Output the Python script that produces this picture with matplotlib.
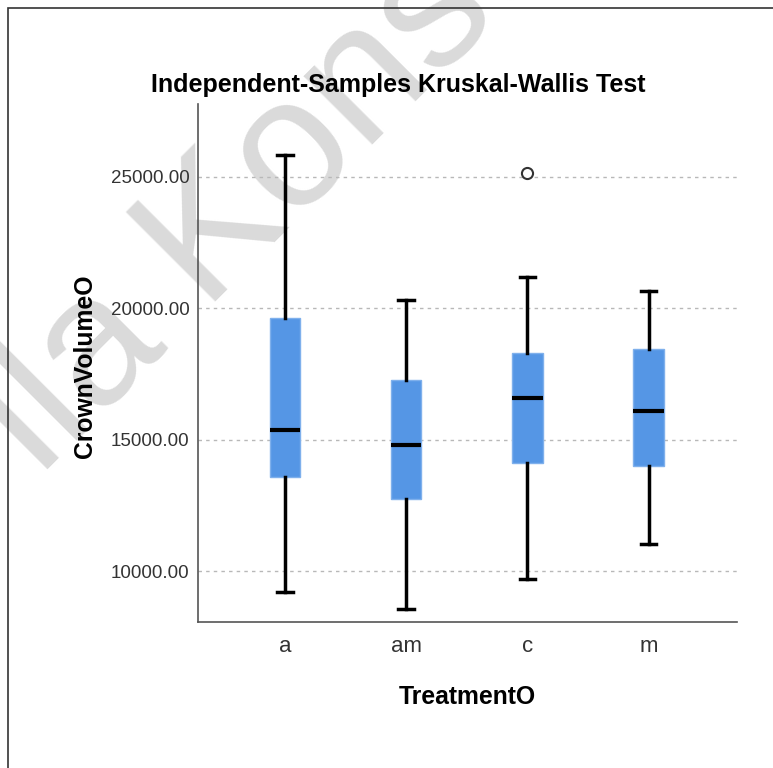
import numpy as np
import matplotlib.pyplot as plt
from matplotlib.patches import Rectangle

# Datos
grupos = ["a", "am", "c", "m"]
bigote_inf = [9230, 8570, 9700, 11050]
q1 = [13580, 12760, 14130, 14000]
mediana = [15360, 14820, 16580, 16090]
q3 = [19620, 17260, 18320, 18450]
bigote_sup = [25850, 20330, 21180, 20670]
atipicos = [[], [], [25140], []]

ticks_y = [10000, 15000, 20000, 25000]

plt.rcParams["font.family"] = ["Liberation Sans", "DejaVu Sans"]

fig = plt.figure(figsize=(7.73, 7.68), dpi=100)
W, H = 773, 768

def fx(px):
    return px / W

def fy(py):
    return 1 - py / H

# marco exterior
fig.patches.append(Rectangle((fx(8), fy(800)), 1.2, fy(8) - fy(800),
                             transform=fig.transFigure, fill=False,
                             edgecolor="#333333", lw=1.2))

# marca de agua
fig.text(fx(40), fy(478), "ila Konsultasi", rotation=45, rotation_mode="anchor",
         ha="left", va="baseline", fontsize=132, color="#dadada", zorder=-1)

ax = fig.add_axes([fx(198), fy(622), fx(737) - fx(198), fy(104) - fy(622)])
ax.patch.set_alpha(0)

stats = []
for i in range(len(grupos)):
    stats.append(dict(label=grupos[i], whislo=bigote_inf[i], q1=q1[i], med=mediana[i],
                      q3=q3[i], whishi=bigote_sup[i], fliers=atipicos[i]))

pos = np.arange(1, len(grupos) + 1)
ax.bxp(stats, positions=pos, widths=0.25, patch_artist=True, showfliers=True,
       boxprops=dict(facecolor="#5596e5", edgecolor="#7fb0ec", lw=1),
       medianprops=dict(color="black", lw=3),
       whiskerprops=dict(color="black", lw=2.5),
       capprops=dict(color="black", lw=2.5),
       capwidths=0.13,
       flierprops=dict(marker="o", markerfacecolor="white", markeredgecolor="#333333",
                       markersize=8, markeredgewidth=1.5))

ax.set_xlim(0.28, 4.73)
ax.set_ylim(8080, 27770)
ax.set_yticks(ticks_y)
ax.set_yticklabels([f"{v:.2f}" for v in ticks_y])
ax.set_xticks(pos)
ax.set_xticklabels(grupos)
ax.tick_params(axis="y", length=0, pad=6, labelsize=13.5, labelcolor="#333333")
ax.tick_params(axis="x", length=0, pad=10, labelsize=16, labelcolor="#333333")
ax.yaxis.grid(True, linestyle=(0, (2.5, 3)), color="#b8b8b8", lw=1)
ax.set_axisbelow(True)

for s in ["top", "right"]:
    ax.spines[s].set_visible(False)
for s in ["left", "bottom"]:
    ax.spines[s].set_color("#555555")
    ax.spines[s].set_linewidth(1.2)

fig.text(fx(398), fy(85), "Independent-Samples Kruskal-Wallis Test", ha="center", va="center",
         fontsize=18, fontweight="bold", color="black")
fig.text(fx(85), fy(366), "CrownVolumeO", rotation=90, ha="center", va="center",
         fontsize=17.8, fontweight="bold", color="black")
fig.text(fx(467), fy(697), "TreatmentO", ha="center", va="center",
         fontsize=17.8, fontweight="bold", color="black")

fig.savefig("out.png", dpi=100)
